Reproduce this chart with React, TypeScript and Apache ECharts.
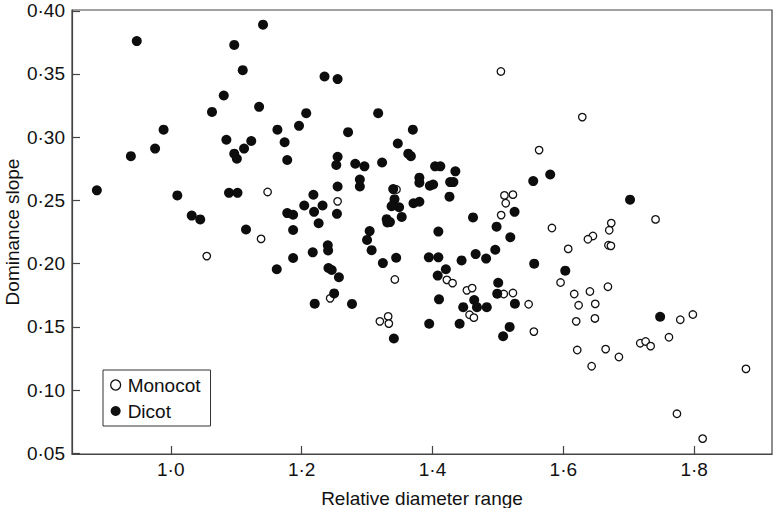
import React, { useEffect, useRef } from "react";
import * as echarts from "echarts";

const xTicks = [1.0, 1.2, 1.4, 1.6, 1.8];
const yTicks = [0.05, 0.1, 0.15, 0.2, 0.25, 0.3, 0.35, 0.4];

const monocot: number[][] = [
  [1.055, 0.206], [1.138, 0.2196], [1.5046, 0.352], [1.148, 0.2567], [1.255, 0.2493],
  [1.345, 0.2587], [1.51, 0.254], [1.523, 0.2546], [1.512, 0.2478], [1.505, 0.2384],
  [1.2436, 0.1726], [1.3425, 0.1875], [1.3196, 0.1544], [1.3323, 0.1583], [1.3333, 0.1526],
  [1.422, 0.1872], [1.4307, 0.1846], [1.4526, 0.1789], [1.4607, 0.1807], [1.4567, 0.1596],
  [1.4633, 0.1573], [1.509, 0.176], [1.523, 0.1768], [1.629, 0.3159], [1.563, 0.2898],
  [1.741, 0.235], [1.6733, 0.2321], [1.6702, 0.2264], [1.5826, 0.2282], [1.6453, 0.2219],
  [1.6376, 0.2193], [1.669, 0.2146], [1.6728, 0.2141], [1.6075, 0.2117], [1.5958, 0.1851],
  [1.547, 0.1679], [1.555, 0.1463], [1.6167, 0.176], [1.6407, 0.178], [1.6682, 0.1818],
  [1.6234, 0.1671], [1.6488, 0.1682], [1.6197, 0.1544], [1.6483, 0.1567], [1.6213, 0.1317],
  [1.6647, 0.1324], [1.685, 0.1262], [1.6433, 0.1189], [1.7176, 0.1371], [1.7258, 0.1385],
  [1.7335, 0.1348], [1.7615, 0.1418], [1.7788, 0.1557], [1.798, 0.1598], [1.8792, 0.1168],
  [1.7737, 0.0813], [1.813, 0.0617],
];

const dicot: number[][] = [
  [0.887, 0.258], [0.948, 0.376], [0.939, 0.285], [0.976, 0.291], [0.989, 0.306],
  [1.01, 0.254], [1.032, 0.238], [1.045, 0.235], [1.063, 0.32], [1.081, 0.333],
  [1.097, 0.373], [1.11, 0.353], [1.085, 0.298], [1.097, 0.287], [1.101, 0.283],
  [1.112, 0.291], [1.123, 0.297], [1.135, 0.324], [1.089, 0.256], [1.102, 0.256],
  [1.115, 0.227], [1.141, 0.389], [1.235, 0.348], [1.255, 0.346], [1.207, 0.319],
  [1.317, 0.319], [1.163, 0.306], [1.196, 0.309], [1.174, 0.296], [1.271, 0.304],
  [1.37, 0.306], [1.347, 0.295], [1.178, 0.282], [1.255, 0.2845], [1.253, 0.278],
  [1.363, 0.287], [1.367, 0.285], [1.282, 0.279], [1.296, 0.277], [1.323, 0.28],
  [1.404, 0.277], [1.412, 0.277], [1.435, 0.273], [1.255, 0.261], [1.289, 0.2665],
  [1.289, 0.261], [1.38, 0.268], [1.38, 0.264], [1.396, 0.2616], [1.401, 0.2626],
  [1.427, 0.2645], [1.432, 0.2645], [1.426, 0.253], [1.34, 0.259], [1.218, 0.2545],
  [1.204, 0.246], [1.232, 0.246], [1.219, 0.241], [1.178, 0.24], [1.187, 0.2387],
  [1.254, 0.2394], [1.226, 0.232], [1.187, 0.2266], [1.342, 0.251], [1.34, 0.2465],
  [1.349, 0.2446], [1.3375, 0.2454], [1.371, 0.2478], [1.38, 0.249], [1.353, 0.237],
  [1.33, 0.2352], [1.335, 0.2329], [1.331, 0.2326], [1.304, 0.2258], [1.3, 0.2188],
  [1.307, 0.2107], [1.24, 0.2146], [1.2405, 0.2105], [1.217, 0.209], [1.187, 0.2045],
  [1.409, 0.2254], [1.462, 0.2366], [1.5255, 0.241], [1.498, 0.2293], [1.519, 0.2209],
  [1.496, 0.211], [1.466, 0.2076], [1.482, 0.204], [1.4445, 0.2026], [1.3945, 0.205],
  [1.409, 0.205], [1.3445, 0.2047], [1.3242, 0.2005], [1.162, 0.1956], [1.241, 0.1966],
  [1.246, 0.195], [1.257, 0.1893], [1.2497, 0.1765], [1.22, 0.1684], [1.277, 0.1682],
  [1.341, 0.1408], [1.408, 0.1906], [1.4205, 0.1956], [1.41, 0.1718], [1.395, 0.1525],
  [1.4415, 0.1525], [1.4638, 0.1713], [1.447, 0.1656], [1.468, 0.1656], [1.483, 0.1656],
  [1.5005, 0.1849], [1.499, 0.1763], [1.526, 0.1684], [1.518, 0.15], [1.508, 0.1426],
  [1.58, 0.2705], [1.554, 0.2653], [1.702, 0.2506], [1.5555, 0.2], [1.603, 0.1945],
  [1.748, 0.158],
];

const FONT = "Liberation Sans, Arial, Helvetica, sans-serif";

export default function App() {
  const ref = useRef<HTMLDivElement>(null);
  useEffect(() => {
    const chart = echarts.init(ref.current!, null, { renderer: "svg" });
    chart.setOption({
      animation: false,
      backgroundColor: "#fff",
      textStyle: { fontFamily: FONT, color: "#111" },
      grid: {
        left: 72,
        right: 1,
        top: 10,
        bottom: 54,
        containLabel: false,
        outerBoundsMode: "none",
        show: true,
        borderColor: "#444",
        borderWidth: 1.2,
        backgroundColor: "transparent",
      },
      legend: {
        orient: "vertical",
        left: 103,
        top: 370,
        padding: [5, 10, 5, 7],
        itemWidth: 14,
        itemHeight: 10,
        itemGap: 6,
        borderColor: "#333",
        borderWidth: 1,
        backgroundColor: "#fff",
        textStyle: { fontFamily: FONT, fontSize: 19, color: "#111", lineHeight: 20 },
        data: [
          {
            name: "Monocot",
            icon: "circle",
            itemStyle: { color: "#fff", borderColor: "#111", borderWidth: 1.3, opacity: 1 },
          },
          {
            name: "Dicot",
            icon: "circle",
            itemStyle: { color: "#111", borderWidth: 0, opacity: 1 },
          },
        ],
      },
      xAxis: {
        type: "value",
        min: 0.849,
        max: 1.919,
        name: "Relative diameter range",
        nameLocation: "middle",
        nameGap: 35,
        nameMoveOverlap: false,
        nameTextStyle: { fontFamily: FONT, fontSize: 19, color: "#111" },
        splitLine: { show: false },
        axisLine: { show: true, lineStyle: { color: "#444", width: 1.2 } },
        axisTick: {
          show: true,
          inside: true,
          length: 8,
          customValues: xTicks,
          lineStyle: { color: "#444", width: 1.2 },
        },
        axisLabel: {
          show: true,
          margin: 6,
          fontFamily: FONT,
          fontSize: 19,
          color: "#111",
          customValues: xTicks,
          formatter: (v: number) => v.toFixed(1).replace(".", "·"),
        },
      },
      yAxis: {
        type: "value",
        min: 0.0495,
        max: 0.4006,
        name: "Dominance slope",
        nameLocation: "middle",
        nameGap: 50,
        nameMoveOverlap: false,
        nameTextStyle: { fontFamily: FONT, fontSize: 19, color: "#111" },
        splitLine: { show: false },
        axisLine: { show: true, lineStyle: { color: "#444", width: 1.2 } },
        axisTick: {
          show: true,
          inside: true,
          length: 8,
          customValues: yTicks,
          lineStyle: { color: "#444", width: 1.2 },
        },
        axisLabel: {
          show: true,
          margin: 7,
          fontFamily: FONT,
          fontSize: 19,
          color: "#111",
          customValues: yTicks,
          formatter: (v: number) => v.toFixed(2).replace(".", "·"),
        },
      },
      series: [
        {
          name: "Monocot",
          type: "scatter",
          data: monocot,
          symbol: "circle",
          symbolSize: 7.5,
          itemStyle: { color: "#fff", borderColor: "#111", borderWidth: 1.3, opacity: 1 },
          emphasis: { disabled: true },
        },
        {
          name: "Dicot",
          type: "scatter",
          data: dicot,
          symbol: "circle",
          symbolSize: 10,
          itemStyle: { color: "#0d0d0d", opacity: 1 },
          emphasis: { disabled: true },
        },
      ],
    });
    return () => chart.dispose();
  }, []);
  return (
    <div
      ref={ref}
      style={{ position: "fixed", left: 0, top: 0, width: 773, height: 508 }}
    />
  );
}
